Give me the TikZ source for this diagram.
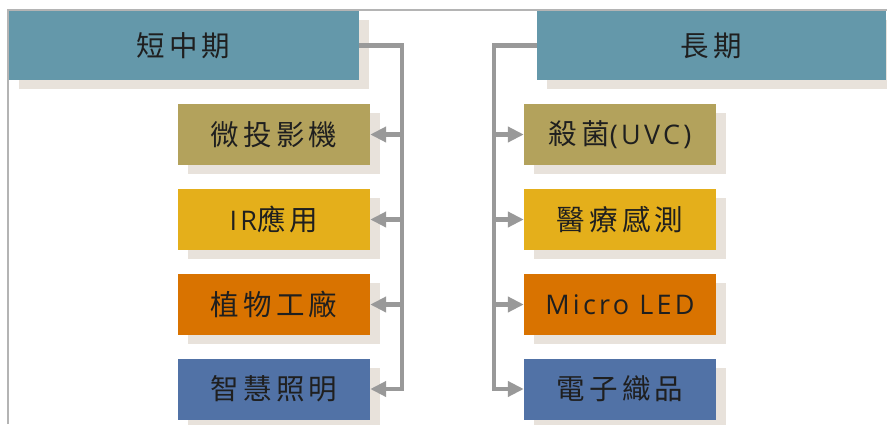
\documentclass[tikz,border=0pt]{standalone}
\usepackage{fontspec}
\setmainfont{Open Sans}[LetterSpace=12]
\newfontfamily\cjkfont[LetterSpace=15]{Noto Sans CJK TC}
\newcommand\latin[1]{{\fontsize{27}{30}\selectfont\rmfamily #1}}
\usetikzlibrary{shadows,arrows.meta}
\definecolor{headc}{HTML}{6498AA}
\definecolor{olivec}{HTML}{B3A25C}
\definecolor{yellowc}{HTML}{E4AF1B}
\definecolor{orangec}{HTML}{D97300}
\definecolor{bluec}{HTML}{5172A6}
\definecolor{shadowc}{HTML}{E8E2DB}
\definecolor{connc}{HTML}{999999}
\definecolor{framec}{HTML}{B4B4B4}
\begin{document}
\begin{tikzpicture}[x=1pt,y=-1pt,
  box/.style={rectangle, inner sep=0pt, text=black!88,
    font=\fontsize{28.5}{34}\selectfont\cjkfont,
    general shadow={fill=shadowc, shadow xshift=10pt, shadow yshift=-9pt}},
  headbox/.style={box, fill=headc, minimum width=350pt, minimum height=69pt},
  childbox/.style={box, minimum width=192pt, minimum height=61pt},
  conn/.style={draw=connc, line width=4.5pt},
  arr/.style={conn, -{Triangle[length=16pt,width=15pt]}}]
\useasboundingbox (0,0) rectangle (887,424);
\fill[white] (0,0) rectangle (887,424);
% frame
\coordinate (ftl) at (8,10);
\coordinate (ftr) at (887,10);
\coordinate (fbl) at (8,424);
\draw[framec, line width=1.5pt] (fbl) -- (ftl) -- (ftr);
% headers
\node[headbox] (hl) at (183.5,45.5) {短中期};
\node[headbox, minimum width=349pt] (hr) at (711.5,45.5) {長期};
% left children
\node[childbox, fill=olivec]  (c1) at (274,134.5) {微投影機};
\node[childbox, fill=yellowc] (c2) at (274,219.5) {\latin{IR}應用};
\node[childbox, fill=orangec] (c3) at (274,304.5) {植物工廠};
\node[childbox, fill=bluec]   (c4) at (274,389) {智慧照明};
% right children
\node[childbox, fill=olivec]  (d1) at (620,134.5) {殺菌\latin{(UVC)}};
\node[childbox, fill=yellowc] (d2) at (620,219.5) {醫療感測};
\node[childbox, fill=orangec] (d3) at (620,304.5) {\latin{Micro LED}};
\node[childbox, fill=bluec]   (d4) at (620,389) {電子織品};
% connectors left
\coordinate (jl) at (402,45.5);
\draw[arr] (hl.east) -- (jl) |- (c4.east);
\draw[arr] (jl |- c1.east) -- (c1.east);
\draw[arr] (jl |- c2.east) -- (c2.east);
\draw[arr] (jl |- c3.east) -- (c3.east);
% connectors right
\coordinate (jr) at (494,45.5);
\draw[arr] (hr.west) -- (jr) |- (d4.west);
\draw[arr] (jr |- d1.west) -- (d1.west);
\draw[arr] (jr |- d2.west) -- (d2.west);
\draw[arr] (jr |- d3.west) -- (d3.west);
\end{tikzpicture}
\end{document}
